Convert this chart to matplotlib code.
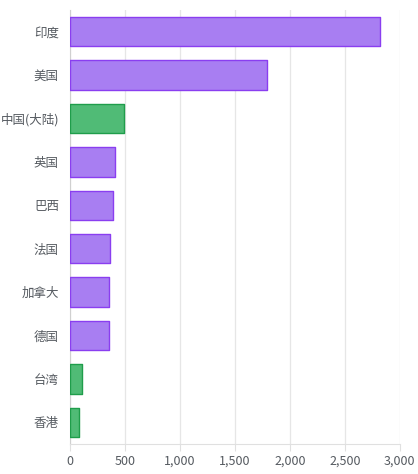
import matplotlib

matplotlib.use("Agg")
import matplotlib.pyplot as plt
from matplotlib.ticker import FuncFormatter

plt.rcParams["font.family"] = ["Noto Sans CJK SC", "DejaVu Sans"]

regions = ["印度", "美国", "中国(大陆)", "英国", "巴西", "法国", "加拿大", "德国", "台湾", "香港"]
values = [2823, 1791, 492, 410, 389, 364, 355, 352, 112, 79]
is_green = [False, False, True, False, False, False, False, False, True, True]

PURPLE_FILL = "#a87ef2"
PURPLE_EDGE = "#8a3ef0"
GREEN_FILL = "#50bb76"
GREEN_EDGE = "#1f9d4b"
TEXT = "#555a60"
GRID = "#e6e6e6"

fig = plt.figure(figsize=(4.18, 4.74), dpi=100, facecolor="white")
ax = fig.add_axes([0.1675, 0.0633, 0.789, 0.9157])

ypos = list(range(len(regions)))
fills = [GREEN_FILL if g else PURPLE_FILL for g in is_green]
edges = [GREEN_EDGE if g else PURPLE_EDGE for g in is_green]
bars = ax.barh(ypos, values, height=0.68, color=fills, edgecolor=edges, linewidth=1.0, zorder=3)
for b in bars:
    b.set_joinstyle("round")

ax.set_ylim(len(regions) - 0.5, -0.5)
ax.set_xlim(0, 3000)
ax.set_yticks(ypos)
ax.set_yticklabels(regions)
ax.set_xticks(range(0, 3001, 500))
ax.xaxis.set_major_formatter(FuncFormatter(lambda v, _: f"{int(v):,}"))

ax.grid(axis="x", color=GRID, linewidth=0.9, zorder=0)
for side in ("top", "right"):
    ax.spines[side].set_visible(False)
ax.spines["left"].set_color("#d0d0d0")
ax.spines["bottom"].set_color("#e0e0e0")
ax.tick_params(axis="y", length=0, pad=8, labelsize=9, colors=TEXT)
ax.tick_params(axis="x", length=5, color="#e0e0e0", pad=3, labelsize=9, labelcolor=TEXT)

fig.savefig("out.png", facecolor=fig.get_facecolor())
